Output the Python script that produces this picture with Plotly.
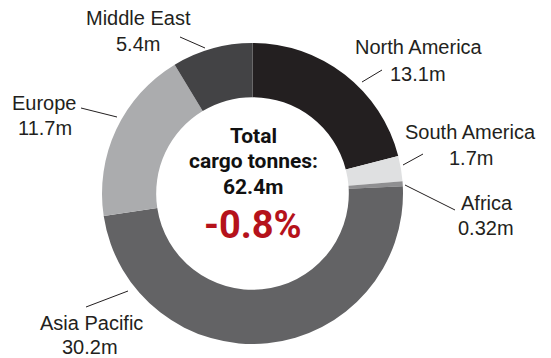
import plotly.graph_objects as go

# Regional cargo volumes (million tonnes)
regions = ["North America", "South America", "Africa", "Asia Pacific", "Europe", "Middle East"]
tonnes = [13.1, 1.7, 0.32, 30.2, 11.7, 5.4]
value_labels = ["13.1m", "1.7m", "0.32m", "30.2m", "11.7m", "5.4m"]
total_label = "62.4m"
change_label = "-0.8%"

colors = ["#231f20", "#dfe0e1", "#8f8f91", "#636365", "#abacae", "#434345"]

W, H = 551, 358
TEXT = "#231f20"

fig = go.Figure(go.Pie(
    labels=regions,
    values=tonnes,
    sort=False,
    direction="clockwise",
    rotation=0,
    hole=0.64,
    marker=dict(colors=colors, line=dict(width=0)),
    textinfo="none",
    hoverinfo="label+value",
    domain=dict(x=[102 / W, 403 / W], y=[1 - 344 / H, 1 - 43 / H]),
    showlegend=False,
))

# label placement (pixel centres) and leader-line endpoints
label_pos = {
    "North America": (419, 47, 418, 74, (362, 82, 382, 70)),
    "South America": (470, 132, 471, 158, (403, 165, 423, 154)),
    "Africa": (487, 203, 486, 228, (405, 185, 455, 210)),
    "Asia Pacific": (91, 323, 90, 347, (86, 307, 128, 291)),
    "Europe": (44, 103, 45, 128, (81, 108, 117, 117)),
    "Middle East": (138, 18, 138, 44, (180, 37, 205, 48)),
}

def px(x, y):
    return x / W, 1 - y / H

annotations = []
shapes = []
for name, val in zip(regions, value_labels):
    x1, y1, x2, y2, ln = label_pos[name]
    for txt, x, y in ((name, x1, y1), (val, x2, y2)):
        ax, ay = px(x, y)
        annotations.append(dict(
            text=txt, x=ax, y=ay, xref="paper", yref="paper",
            xanchor="center", yanchor="middle", showarrow=False,
            font=dict(family="Liberation Sans, Arial", size=20, color=TEXT),
        ))
    lx0, ly0 = px(ln[0], ln[1])
    lx1, ly1 = px(ln[2], ln[3])
    shapes.append(dict(type="line", xref="paper", yref="paper",
                       x0=lx0, y0=ly0, x1=lx1, y1=ly1,
                       line=dict(color=TEXT, width=1)))

# centre text
centre_font = dict(family="Roboto, Arial", size=21, color="#111111")
for txt, y in (("<b>Total</b>", 136), ("<b>cargo tonnes:</b>", 161), ("<b>" + total_label + "</b>", 187)):
    ax, ay = px(253, y)
    annotations.append(dict(text=txt, x=ax, y=ay, xref="paper", yref="paper",
                            xanchor="center", yanchor="middle", showarrow=False,
                            font=centre_font))
ax, ay = px(253, 225)
annotations.append(dict(text="<b>" + change_label + "</b>", x=ax, y=ay, xref="paper", yref="paper",
                        xanchor="center", yanchor="middle", showarrow=False,
                        font=dict(family="Roboto, Arial", size=38, color="#b5121b")))

fig.update_layout(
    width=W, height=H,
    margin=dict(l=0, r=0, t=0, b=0),
    paper_bgcolor="white",
    plot_bgcolor="white",
    annotations=annotations,
    shapes=shapes,
)

fig.write_html("out.html")
